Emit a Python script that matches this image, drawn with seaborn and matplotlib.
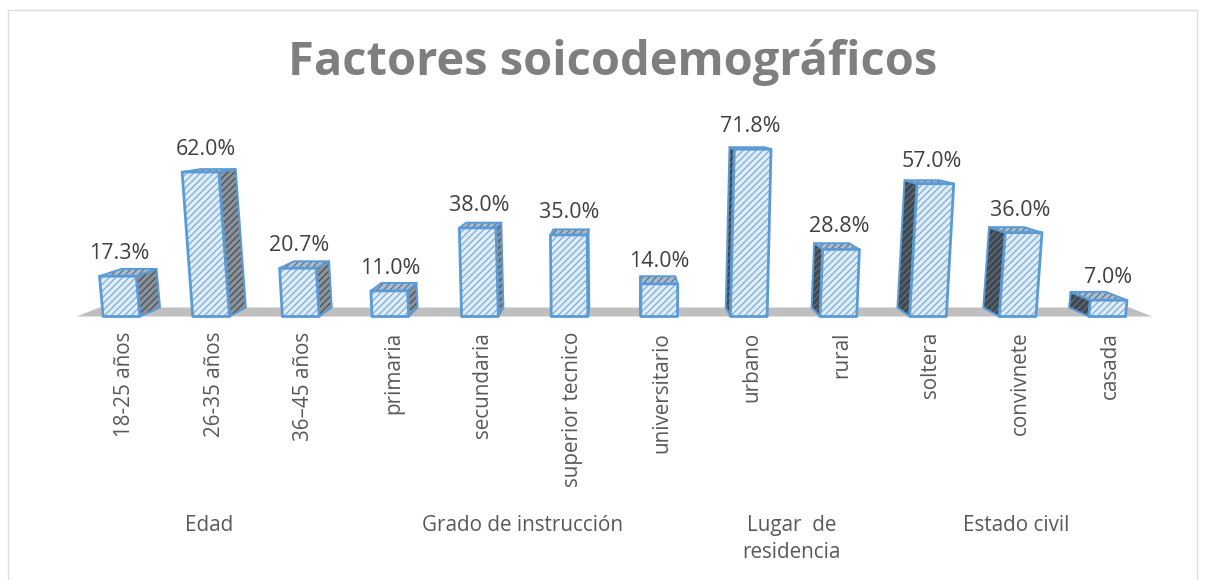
import pandas as pd
import seaborn as sns
import matplotlib.pyplot as plt
from matplotlib.lines import Line2D
from matplotlib.patches import Polygon
from matplotlib.transforms import Affine2D, ScaledTranslation

# Values
categories = ["18-25 años", "26-35 años", "36–45 años", "primaria", "secundaria",
              "superior tecnico", "universitario", "urbano", "rural", "soltera",
              "convivnete", "casada"]
values = [17.3, 62.0, 20.7, 11.0, 38.0, 35.0, 14.0, 71.8, 28.8, 57.0, 36.0, 7.0]
groups = ["Edad", "Grado de instrucción", "Lugar  de\nresidencia", "Estado civil"]
group_sizes = [3, 4, 2, 3]
title = "Factores soicodemográficos"

W, H = 1207, 580
X0, X1 = 76.7, 1152.0   # pixel span of the category axis
BASE = 316.5            # baseline, pixels from top
PX_PER_PCT = 2.33
AX_TOP = 100.0

# Fake 3D: one vanishing point, in data units
VX, VY = 5.56, 92.0
DEPTH = 0.042
TILT = 4.2e-4

BLUE = "#5B9BD5"
HATCH = "/////"


def back(x, y):
    return x + (VX - x) * DEPTH, y + (VY - y) * DEPTH


def face(ax, pts, fc, hc, edge_lw=1.4):
    ax.add_patch(Polygon(pts, closed=True, facecolor=fc, edgecolor=hc, hatch=HATCH,
                         linewidth=0, zorder=2))
    ax.add_patch(Polygon(pts, closed=True, fill=False, edgecolor=BLUE,
                         linewidth=edge_lw, joinstyle="round", zorder=2.5))


def main():
    sns.set_theme(style="white")
    plt.rcParams["font.family"] = ["Open Sans", "DejaVu Sans"]
    plt.rcParams["hatch.linewidth"] = 0.9

    df = pd.DataFrame({"factor": categories, "pct": values})

    fig = plt.figure(figsize=(W / 100, H / 100), dpi=100)
    ax = fig.add_axes([X0 / W, 1 - BASE / H, (X1 - X0) / W, (BASE - AX_TOP) / H])
    sns.barplot(data=df, x="factor", y="pct", color="#DDEEFB", saturation=1, width=0.41,
                edgecolor="#86A9CB", hatch=HATCH, linewidth=0, zorder=3, ax=ax)

    ax.set_xlim(-0.5, 11.5)
    ax.set_ylim(0, (BASE - AX_TOP) / PX_PER_PCT)
    sns.despine(ax=ax, left=True, bottom=True)
    ax.set_yticks([])
    ax.set_xlabel("")
    ax.set_ylabel("")
    ax.patch.set_alpha(0)
    ax.tick_params(axis="x", length=0, pad=11)
    ax.set_xticks(range(len(categories)))
    ax.set_xticklabels(categories, rotation=90, va="top", ha="center",
                       fontsize=14.9, color="#595959")
    # labels sit a little right of the bar centres
    nudge = ScaledTranslation(3 / 100, 0, fig.dpi_scale_trans)
    for label in ax.get_xticklabels():
        label.set_transform(label.get_transform() + nudge)

    # Floor of the chart
    xl, xr = ax.get_xlim()
    floor = [(xl, 0), (xr, 0), back(xr, 0), back(xl, 0)]
    ax.add_patch(Polygon(floor, closed=True, facecolor="#BFBFBF", edgecolor="none",
                         zorder=1, clip_on=False))

    for bar, v in zip(ax.containers[0], values):
        x0 = bar.get_x()
        w = bar.get_width()
        cx = x0 + w / 2
        h = bar.get_height()
        # bars lean away from the centre as they rise
        s = (cx - VX) * TILT
        shear = Affine2D.from_values(1, 0, s, 1, 0, 0)
        bar.set_transform(shear + ax.transData)
        bar.set_clip_on(False)

        # corners of the front face after the tilt
        bl, br = (x0, 0), (x0 + w, 0)
        tl, tr = (x0 + s * h, h), (x0 + w + s * h, h)
        ax.add_patch(Polygon([bl, br, tr, tl], closed=True, fill=False, edgecolor=BLUE,
                             linewidth=2.0, joinstyle="round", zorder=4, clip_on=False))

        # top and visible side
        face(ax, [tl, tr, back(*tr), back(*tl)], "#A9BDD2", "#5F7389")
        if cx < VX:
            face(ax, [br, tr, back(*tr), back(*br)], "#8B9199", "#46515D")
        else:
            face(ax, [bl, tl, back(*tl), back(*bl)], "#3E4954", "#66707A")

        ax.text(cx + s * h / 2, h + 9.7, f"{v:.1f}%", ha="center", va="center",
                fontsize=15.4, color="#404040", zorder=5)

    # Multi-level category labels
    start = 0
    for name, n in zip(groups, group_sizes):
        centre = start + (n - 1) / 2
        ax.text(centre - 0.02, (BASE - 515) / PX_PER_PCT, name, ha="center", va="top",
                fontsize=14.9, color="#595959", linespacing=1.4, clip_on=False)
        start += n

    fig.text(613 / W, 1 - 75 / H, title, ha="center", va="baseline", fontsize=33.8,
             fontweight="bold", color="#7F7F7F")

    # Chart frame
    frame = "#DDDDDD"
    for xs, ys in [((8, 8), (10, 580)), ((8, 1197), (10, 10)), ((1197, 1197), (10, 580))]:
        fig.add_artist(Line2D([x / W for x in xs], [1 - y / H for y in ys], color=frame, lw=1.0))

    fig.savefig("out.png", dpi=100, facecolor="white")


if __name__ == "__main__":
    main()
